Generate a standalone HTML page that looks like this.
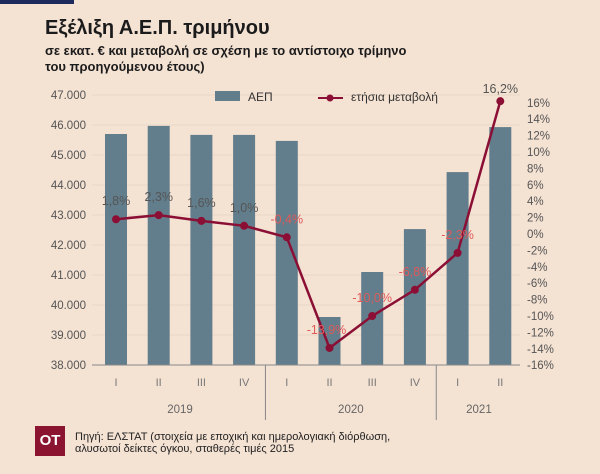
<!DOCTYPE html>
<html><head><meta charset="utf-8">
<style>
body{margin:0;width:600px;height:474px;background:#f4e2d3;font-family:"Liberation Sans","DejaVu Sans",sans-serif;overflow:hidden;position:relative}
.t{position:absolute;left:45px;color:#1b1b1b;font-weight:bold}
</style></head>
<body>
<div style="position:absolute;left:0;top:0;width:74px;height:4px;background:#1f2a5c"></div>
<div class="t" style="top:17px;font-size:20px">Εξέλιξη Α.Ε.Π. τριμήνου</div>
<div class="t" style="top:43px;font-size:13px;line-height:16px">σε εκατ. € και μεταβολή σε σχέση με το αντίστοιχο τρίμηνο<br>του προηγούμενου έτους)</div>
<svg id="c" width="600" height="474" style="position:absolute;left:0;top:0"></svg>
<div style="position:absolute;left:35px;top:426px;width:30px;height:30px;background:#8b1431;color:#fff;font-weight:bold;font-size:15px;line-height:30px;text-align:center">OT</div>
<div style="position:absolute;left:75px;top:431px;font-size:11px;line-height:12px;color:#222">Πηγή: ΕΛΣΤΑΤ (στοιχεία με εποχική και ημερολογιακή διόρθωση,<br>αλυσωτοί δείκτες όγκου, σταθερές τιμές 2015</div>
<script>
const quarters=["I","II","III","IV","I","II","III","IV","I","II"];
const years=["2019","2020","2021"];
const gdp=[45700,45970,45670,45670,45470,39600,41100,42530,44430,45930];
const change=[1.8,2.3,1.6,1.0,-0.4,-13.9,-10.0,-6.8,-2.3,16.2];
const leftTicks=[38000,39000,40000,41000,42000,43000,44000,45000,46000,47000];
const rightTicks=[-16,-14,-12,-10,-8,-6,-4,-2,0,2,4,6,8,10,12,14,16];
const NS="http://www.w3.org/2000/svg";
const svg=document.getElementById('c');
function el(t,a,txt){const e=document.createElementNS(NS,t);for(const k in a)e.setAttribute(k,a[k]);if(txt!==undefined)e.textContent=txt;svg.appendChild(e);return e;}
const yL=v=>365-(v-38000)*0.03;
const yR=v=>234-v*8.2;
const xC=i=>116+i*42.7;
leftTicks.forEach(v=>{
 const g=el('line',{x1:92,x2:520,y1:yL(v),y2:yL(v),stroke:'#e8d6c6','stroke-width':1});
 
 
 const t=el('text',{x:86,y:yL(v)+4,'text-anchor':'end','font-size':11.5,fill:'#555'},v.toLocaleString('de-DE'));
 
 
});
rightTicks.forEach(v=>{
 const t=el('text',{x:527,y:yR(v)+4,'font-size':11.5,fill:'#555'},v+'%');
 
 
});
gdp.forEach((v,i)=>{
 const r=el('rect',{x:xC(i)-11,y:yL(v),width:22,height:365-yL(v),fill:'#627d8b'});
 
 
 const q=el('text',{x:xC(i),y:386,'text-anchor':'middle','font-size':11,fill:'#777'},quarters[i]);
 
 
});
const ax=el('line',{x1:92,x2:520,y1:365,y2:365,stroke:'#888'});


[3.5,7.5].forEach(p=>{
 const s=el('line',{x1:xC(p),x2:xC(p),y1:365,y2:420,stroke:'#888'});
 
 
});
[[0,3],[4,7],[8,9]].forEach((r,i)=>{
 const y=el('text',{x:(xC(r[0])+xC(r[1]))/2,y:413,'text-anchor':'middle','font-size':11.5,fill:'#666'},years[i]);
 
 
});
const pl=el('polyline',{points:change.map((v,i)=>xC(i)+','+yR(v)).join(' '),fill:'none',stroke:'#8b0f35','stroke-width':2.5});


change.forEach((v,i)=>{
 const c=el('circle',{cx:xC(i),cy:yR(v),r:4,fill:'#8b0f35'});
 
 
 let ly=yR(v)-14;
 if(i===9)ly=yR(v)-8;
 const t=el('text',{x:xC(i)+(i===5?-3:0),y:ly,'text-anchor':'middle','font-size':12.5,fill:v>=0?'#555':'#e05a5a'},v.toFixed(1).replace('.',',')+'%');
 
 
});
const lr=el('rect',{x:215,y:91,width:25,height:10,fill:'#627d8b'});


const lt=el('text',{x:248,y:101,'font-size':12,fill:'#333'},'ΑΕΠ');


const ll=el('line',{x1:318,x2:343,y1:98,y2:98,stroke:'#8b0f35','stroke-width':2});


const lc=el('circle',{cx:330,cy:98,r:3.5,fill:'#8b0f35'});


const lt2=el('text',{x:351,y:101,'font-size':12,fill:'#333'},'ετήσια μεταβολή');


</script>
</body></html>
